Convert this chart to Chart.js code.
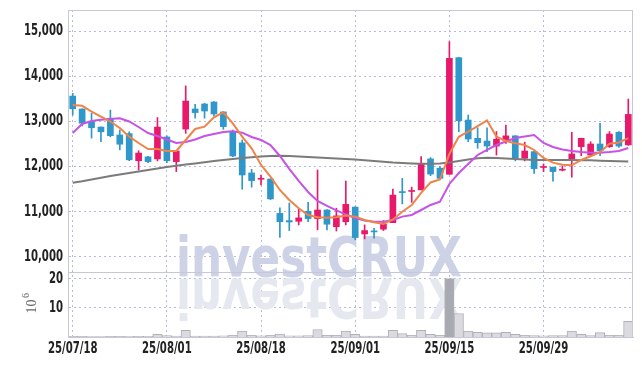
<!DOCTYPE html>
<html>
<head>
<meta charset="utf-8">
<script src="https://cdn.jsdelivr.net/npm/chart.js@4"></script>
<style>
  html, body { margin: 0; padding: 0; background: #fff; }
  #wrap { width: 642px; height: 366px; }
</style>
</head>
<body>
<div id="wrap"><canvas id="chart" width="642" height="366"></canvas></div>
<script>
// trading days
const dates = ['25/07/18','25/07/21','25/07/22','25/07/23','25/07/24','25/07/25','25/07/28','25/07/29','25/07/30','25/07/31',
  '25/08/01','25/08/04','25/08/05','25/08/06','25/08/07','25/08/08','25/08/11','25/08/12','25/08/13','25/08/14',
  '25/08/18','25/08/19','25/08/20','25/08/21','25/08/22','25/08/25','25/08/26','25/08/27','25/08/28','25/08/29',
  '25/09/01','25/09/02','25/09/03','25/09/04','25/09/05','25/09/08','25/09/09','25/09/10','25/09/11','25/09/12',
  '25/09/15','25/09/16','25/09/17','25/09/18','25/09/19','25/09/22','25/09/23','25/09/24','25/09/25','25/09/26',
  '25/09/29','25/09/30','25/10/01','25/10/02','25/10/10','25/10/13','25/10/14','25/10/15','25/10/16','25/10/17'];

// OHLC
const open  = [13560,13275,12995,12875,13070,12700,12730,12130,12215,12170,
               12655,12110,12830,13275,13385,13430,13210,12760,12525,11860,
               11720,11725,10965,10805,10790,11010,10850,11040,10670,10780,
               11105,10510,10570,10615,10760,11440,11450,11485,12170,11965,
               11830,14410,13030,12625,12565,12455,12580,12680,12185,12330,
               11980,11985,11920,12170,12440,12255,12500,12440,12760,12480];
const high  = [13620,13280,13180,12880,13250,12810,12770,12350,12230,13085,
               12680,12350,13785,13380,13400,13440,13215,12810,12590,11940,
               11815,11730,11090,11195,11065,11210,11925,11050,11080,11680,
               11110,10710,10635,10805,11505,11740,11545,12220,12200,12000,
               14765,14420,13140,12860,12860,12775,12920,12685,12540,12340,
               12060,11990,12015,12760,12630,12550,12960,12775,12775,13495];
const low   = [13140,12900,12630,12550,12660,12370,12130,11925,12085,12125,
               12085,11890,12735,13070,13070,13120,12825,12220,11500,11545,
               11595,11270,10435,10585,10710,10780,10600,10600,10575,10710,
               10380,10400,10415,10585,10760,11175,11210,11485,11800,11740,
               11830,12770,12550,12405,12330,12255,12515,12125,12125,11850,
               11890,11680,11905,11765,12240,12240,12240,12425,12425,12470];
const close = [13280,12960,12860,12770,12685,12495,12150,12300,12110,12875,
               12130,12345,13450,13195,13230,13165,12885,12235,11815,11690,
               11740,11285,10780,10775,10865,10850,11040,10725,10910,11165,
               10430,10585,10555,10725,11370,11425,11470,12060,11835,11740,
               14395,13015,12610,12530,12455,12605,12680,12185,12345,11955,
               11990,11890,11930,12280,12625,12500,12350,12720,12455,13155];

// moving averages
const ma5   = [13363,13345,13219,13104,12998,12854,12662,12523,12390,12390,
               12346,12346,12589,12832,12883,13091,13202,12958,12662,12405,
               12036,11777,11483,11262,11078,10930,10879,10870,10879,10920,
               10893,10819,10768,10731,10830,11000,11150,11420,11650,11715,
               12280,12660,12773,12895,13020,12662,12567,12515,12478,12368,
               12190,12087,12040,12030,12147,12230,12320,12505,12535,12630];
const ma20  = [12744,12943,13009,13038,13053,13069,12998,12876,12744,12677,
               12600,12523,12545,12600,12677,12722,12766,12781,12750,12655,
               12589,12478,12235,11948,11682,11439,11240,11130,11030,10942,
               10864,10808,10782,10782,10819,10893,10930,11040,11151,11225,
               11616,11859,12058,12257,12368,12478,12556,12633,12666,12700,
               12523,12434,12379,12346,12323,12308,12308,12323,12346,12412];
const ma120 = [11644,11677,11715,11752,11790,11826,11859,11892,11925,11958,
               11992,12018,12045,12071,12098,12124,12146,12169,12191,12208,
               12224,12235,12240,12235,12224,12213,12202,12191,12180,12169,
               12158,12142,12124,12107,12091,12080,12069,12062,12062,12069,
               12091,12124,12158,12184,12195,12191,12180,12169,12158,12146,
               12146,12146,12146,12146,12142,12138,12131,12124,12118,12111];

// volume, millions of shares
const volume = [0.2,0.2,0.15,0.15,0.2,0.2,0.25,0.2,0.2,0.9,
                0.5,0.3,2.3,0.3,0.3,0.3,0.4,0.6,2.0,0.6,
                0.4,0.6,1.0,0.4,0.4,0.5,2.6,0.6,0.6,2.0,
                0.9,0.3,0.3,0.3,2.3,1.2,0.6,2.3,0.9,0.6,
                20.1,8.1,2.0,1.6,1.4,1.4,1.6,0.9,0.6,0.5,
                0.4,0.5,0.5,2.0,0.9,0.5,1.5,0.6,0.6,5.4];

const priceTicks = [10000, 11000, 12000, 13000, 14000, 15000];
const volTicks = [10, 20];
const labelEvery = 10;

const UP = '#e8196b', DOWN = '#2f97c9';
const gridC = '#b7bbd8', axisC = '#c6c8d8';
const LABEL_FONT = 'bold 15px "DejaVu Sans Condensed", "DejaVu Sans", sans-serif';
const LABEL_SQUEEZE = 0.75;   // the source uses a very narrow face

const candleColors = close.map((c, i) => c >= open[i] ? UP : DOWN);
const volColors = volume.map(v => v > 15 ? '#a9a9b2' : '#dadae0');

function squeezedText(ctx, text, x, y, align) {
  ctx.save();
  ctx.translate(x, y);
  ctx.scale(LABEL_SQUEEZE, 1);
  ctx.textAlign = align;
  ctx.fillText(text, 0, 0);
  ctx.restore();
}

const watermark = {
  id: 'watermark',
  beforeDatasetsDraw(chart) {
    const ctx = chart.ctx;
    const text = 'investCRUX';
    ctx.save();
    ctx.font = 'bold 56px "DejaVu Sans"';
    const sx = 286 / ctx.measureText(text).width;
    ctx.fillStyle = '#cdd2e6';
    ctx.translate(176, 276);
    ctx.scale(sx, 1);
    ctx.fillText(text, 0, 0);
    ctx.restore();
    ctx.save();
    ctx.font = 'bold 56px "DejaVu Sans"';
    ctx.fillStyle = '#e6e8f0';
    ctx.translate(176, 279);
    ctx.scale(sx, -1);
    ctx.fillText(text, 0, 0);
    ctx.restore();
  }
};

// axis labels: drawn at the scales' own pixel positions
const axisLabels = {
  id: 'axisLabels',
  afterDraw(chart) {
    const { ctx, scales } = chart;
    ctx.save();
    ctx.fillStyle = '#222';
    ctx.font = LABEL_FONT;
    ctx.textBaseline = 'middle';
    priceTicks.forEach(v => squeezedText(ctx, v.toLocaleString('en-US'), 63, scales.y.getPixelForValue(v), 'right'));
    volTicks.forEach(v => squeezedText(ctx, String(v), 63, scales.yv.getPixelForValue(v), 'right'));
    dates.forEach((d, i) => {
      if (i % labelEvery === 0) squeezedText(ctx, d, scales.x.getPixelForValue(i), scales.x.top + 12, 'center');
    });
    ctx.restore();
  }
};

const frame = {
  id: 'frame',
  afterDraw(chart) {
    const { ctx, chartArea: a } = chart;
    const yv = chart.scales.yv;
    ctx.save();
    ctx.strokeStyle = axisC;
    ctx.lineWidth = 1;
    ctx.strokeRect(a.left + 0.5, a.top + 0.5, a.right - a.left - 1, a.bottom - a.top);
    ctx.beginPath();
    ctx.moveTo(a.left, Math.round(yv.top) + 0.5);
    ctx.lineTo(a.right, Math.round(yv.top) + 0.5);
    ctx.stroke();
    // unit label of volume axis
    ctx.fillStyle = '#666';
    ctx.translate(36, (yv.top + yv.bottom) / 2 + 2);
    ctx.rotate(-Math.PI / 2);
    ctx.font = '14px "Liberation Serif"';
    ctx.textAlign = 'center';
    ctx.textBaseline = 'alphabetic';
    ctx.fillText('10', 0, 0);
    ctx.font = '10px "Liberation Serif"';
    ctx.fillText('6', 11, -7);
    ctx.restore();
  }
};

const yAxisBase = {
  position: 'left',
  stack: 'main',
  grid: { color: gridC, drawTicks: false },
  border: { display: true, color: axisC, dash: [2, 3] },
  ticks: { display: false },
  afterFit: s => { s.width = 68; }
};

new Chart(document.getElementById('chart').getContext('2d'), {
  type: 'bar',
  data: {
    labels: dates,
    datasets: [
      { type: 'line', data: ma5, borderColor: '#ee8449', borderWidth: 2, pointRadius: 0, tension: 0, yAxisID: 'y', order: 0 },
      { type: 'line', data: ma20, borderColor: '#c652e6', borderWidth: 2, pointRadius: 0, tension: 0, yAxisID: 'y', order: 0 },
      { type: 'line', data: ma120, borderColor: '#7b7b7b', borderWidth: 2, pointRadius: 0, tension: 0, yAxisID: 'y', order: 0 },
      { data: open.map((o, i) => [o, close[i]]), backgroundColor: candleColors, barThickness: 6, minBarLength: 1,
        grouped: false, yAxisID: 'y', order: 1 },
      { data: low.map((l, i) => [l, high[i]]), backgroundColor: candleColors, barThickness: 1,
        grouped: false, yAxisID: 'y', order: 2 },
      { data: volume, backgroundColor: volColors, borderColor: '#b0b0b8', borderWidth: 1,
        barPercentage: 1, categoryPercentage: 1, grouped: false, yAxisID: 'yv', order: 3 }
    ]
  },
  options: {
    responsive: false,
    animation: false,
    devicePixelRatio: 1,
    layout: { padding: { top: 10, right: 9, left: 0, bottom: 0 } },
    plugins: { legend: { display: false }, tooltip: { enabled: false } },
    scales: {
      x: {
        offset: true,
        grid: { offset: false, drawTicks: false, color: c => c.index % labelEvery === 0 ? gridC : 'transparent' },
        border: { display: true, color: axisC, dash: [2, 3] },
        ticks: { display: false, autoSkip: false },
        afterFit: s => { s.height = 29; }
      },
      // the last scale of a stack is placed at its top
      yv: Object.assign({}, yAxisBase, {
        stackWeight: 65, min: 0, max: 22.4,
        afterBuildTicks: s => { s.ticks = volTicks.map(v => ({ value: v })); }
      }),
      y: Object.assign({}, yAxisBase, {
        stackWeight: 262, min: 9668, max: 15465,
        afterBuildTicks: s => { s.ticks = priceTicks.map(v => ({ value: v })); }
      })
    }
  },
  plugins: [watermark, frame, axisLabels]
});
</script>
</body>
</html>
